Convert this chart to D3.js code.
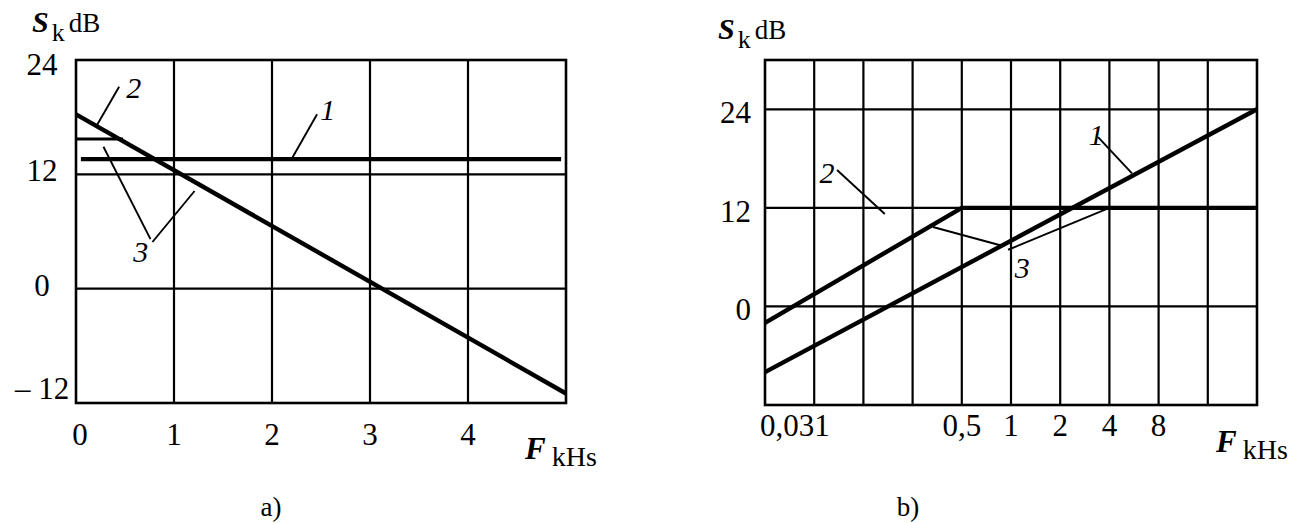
<!DOCTYPE html>
<html>
<head>
<meta charset="utf-8">
<script src="https://cdn.jsdelivr.net/npm/d3@7"></script>
<style>
  html, body { margin: 0; padding: 0; background: #fff; }
  svg { display: block; font-family: "Liberation Serif", "Times New Roman", serif; }
</style>
</head>
<body>
<svg id="chart" width="1302" height="523"></svg>
<script>
// ---- Panel a): linear frequency axis (kHz) ----
const aGridX = [1, 2, 3, 4];
const aGridY = [12, 0];
const aTicksX = [0, 1, 2, 3, 4];
const aTicksY = [24, 12, 0, -12];
const aTickLabelsY = ["24", "12", "0", "\u2013 12"];
const aCurve1 = [[0.05, 13.6], [4.95, 13.6]];
const aCurve2 = [[0, 18.3], [5, -11]];
const aCurve3 = [[0, 15.7], [0.48, 15.7]];

// ---- Panel b): octave frequency axis (kHz) ----
const bGridX = [1/16, 1/8, 1/4, 1/2, 1, 2, 4, 8, 16];
const bGridY = [24, 0];
const bTicksX = [0.03125, 0.5, 1, 2, 4, 8];
const bTickLabelsX = ["0,031", "0,5", "1", "2", "4", "8"];
const bTicksY = [24, 12, 0];
const bCurve1 = [[1/32, -8], [32, 24]];
const bCurve2 = [[1/32, -2], [0.5, 12], [32, 12]];

// Curve-number callouts, in each panel's data units
const aCallouts = [
  { text: "2", at: [0.59, 20.0], leaders: [[[0.44, 21.2], [0.21, 17.1]]] },
  { text: "1", at: [2.57, 17.7], leaders: [[[2.46, 18.3], [2.21, 13.8]]] },
  { text: "3", at: [0.66, 2.8], leaders: [[[0.28, 14.9], [0.76, 5.2]], [[0.78, 4.9], [1.21, 10.25]]] }
];
const bCallouts = [
  { text: "2", at: [0.0749, 15.0], leaders: [[[0.0862, 16.6], [0.169, 11.25]]] },
  { text: "1", at: [3.32, 19.65], leaders: [[[3.41, 20.6], [5.5, 16.2]]] },
  { text: "3", at: [1.17, 3.46], leaders: [[[0.333, 9.67], [0.893, 7.36]], [[0.96, 6.9], [4, 12]]] }
];

const svg = d3.select("#chart");

function drawPanel(g, x, y, cfg) {
  const [x0, x1] = x.range();
  const [y1, y0] = y.range();

  // grid
  g.selectAll(".gx").data(cfg.gridX).join("line")
    .attr("x1", d => x(d)).attr("x2", d => x(d))
    .attr("y1", y0).attr("y2", y1)
    .attr("stroke", "#000").attr("stroke-width", 2.2);
  g.selectAll(".gy").data(cfg.gridY).join("line")
    .attr("x1", x0).attr("x2", x1)
    .attr("y1", d => y(d)).attr("y2", d => y(d))
    .attr("stroke", "#000").attr("stroke-width", 2.2);

  // frame
  g.append("rect")
    .attr("x", x0).attr("y", y0)
    .attr("width", x1 - x0).attr("height", y1 - y0)
    .attr("fill", "none").attr("stroke", "#000").attr("stroke-width", 2.6);

  // curves
  const line = d3.line().x(d => x(d[0])).y(d => y(d[1]));
  cfg.curves.forEach(c => {
    g.append("path").attr("d", line(c.data))
      .attr("fill", "none").attr("stroke", "#000")
      .attr("stroke-width", c.w).attr("stroke-linejoin", "round");
  });

  // callouts
  cfg.callouts.forEach(c => {
    c.leaders.forEach(l => {
      g.append("path").attr("d", line(l))
        .attr("fill", "none").attr("stroke", "#000").attr("stroke-width", 1.9);
    });
    g.append("text")
      .attr("x", x(c.at[0])).attr("y", y(c.at[1]))
      .attr("text-anchor", "middle")
      .attr("font-style", "italic").attr("font-size", 30)
      .text(c.text);
  });
}

// ---- Panel a) ----
const xa = d3.scaleLinear().domain([0, 5]).range([76, 566]);
const ya = d3.scaleLinear().domain([-12, 24]).range([403, 60]);
const ga = svg.append("g");
drawPanel(ga, xa, ya, {
  gridX: aGridX, gridY: aGridY,
  curves: [
    { data: aCurve1, w: 4.4 },
    { data: aCurve2, w: 4.4 },
    { data: aCurve3, w: 3 }
  ],
  callouts: aCallouts
});
ga.selectAll(".tx").data(aTicksX).join("text")
  .attr("x", d => xa(d) + (d === 0 ? 4 : 0)).attr("y", 445)
  .attr("text-anchor", "middle").attr("font-size", 31)
  .text(d => d);
// y labels sit beside their line, kept inside the frame's height
ga.selectAll(".ty").data(aTicksY).join("text")
  .attr("x", 42)
  .attr("y", d => Math.min(Math.max(ya(d) + 7, ya(24) + 15), ya(-12) - 4))
  .attr("text-anchor", "middle").attr("font-size", 31)
  .text((d, i) => aTickLabelsY[i]);

// ---- Panel b) ----
const xb = d3.scaleLog().base(2).domain([1/32, 32]).range([765, 1257]);
const yb = d3.scaleLinear().domain([-12, 30]).range([405, 60]);
const gb = svg.append("g");
drawPanel(gb, xb, yb, {
  gridX: bGridX, gridY: bGridY.concat([12]),
  curves: [
    { data: bCurve1, w: 4.4 },
    { data: bCurve2, w: 4.4 }
  ],
  callouts: bCallouts
});
gb.selectAll(".tx").data(bTicksX).join("text")
  .attr("x", (d, i) => i === 0 ? xb(d) - 5 : xb(d))
  .attr("y", 436)
  .attr("text-anchor", (d, i) => i === 0 ? "start" : "middle")
  .attr("font-size", 31)
  .text((d, i) => bTickLabelsX[i]);
gb.selectAll(".ty").data(bTicksY).join("text")
  .attr("x", 751).attr("y", d => yb(d) + 14)
  .attr("text-anchor", "end").attr("font-size", 31)
  .text(d => d);

// ---- axis titles and captions ----
function yTitle(x, y) {
  const t = svg.append("text").attr("x", x).attr("y", y);
  t.append("tspan").attr("font-style", "italic").attr("font-weight", "bold")
    .attr("font-size", 30).text("S");
  t.append("tspan").attr("font-size", 26).attr("dx", 3).attr("dy", 9).text("k");
  t.append("tspan").attr("font-size", 27).attr("dx", 4).attr("dy", -9).text("dB");
}
yTitle(32, 32);
yTitle(718, 39);

function xTitle(x, y) {
  const t = svg.append("text").attr("x", x).attr("y", y);
  t.append("tspan").attr("font-style", "italic").attr("font-weight", "bold")
    .attr("font-size", 31).text("F");
  t.append("tspan").attr("font-size", 28).attr("dx", 6).attr("dy", 7).text("kHs");
}
xTitle(525, 459);
xTitle(1216, 452);

svg.append("text").attr("x", 271).attr("y", 516).attr("text-anchor", "middle")
  .attr("font-size", 27).text("a)");
svg.append("text").attr("x", 908).attr("y", 516).attr("text-anchor", "middle")
  .attr("font-size", 27).text("b)");
</script>
</body>
</html>
